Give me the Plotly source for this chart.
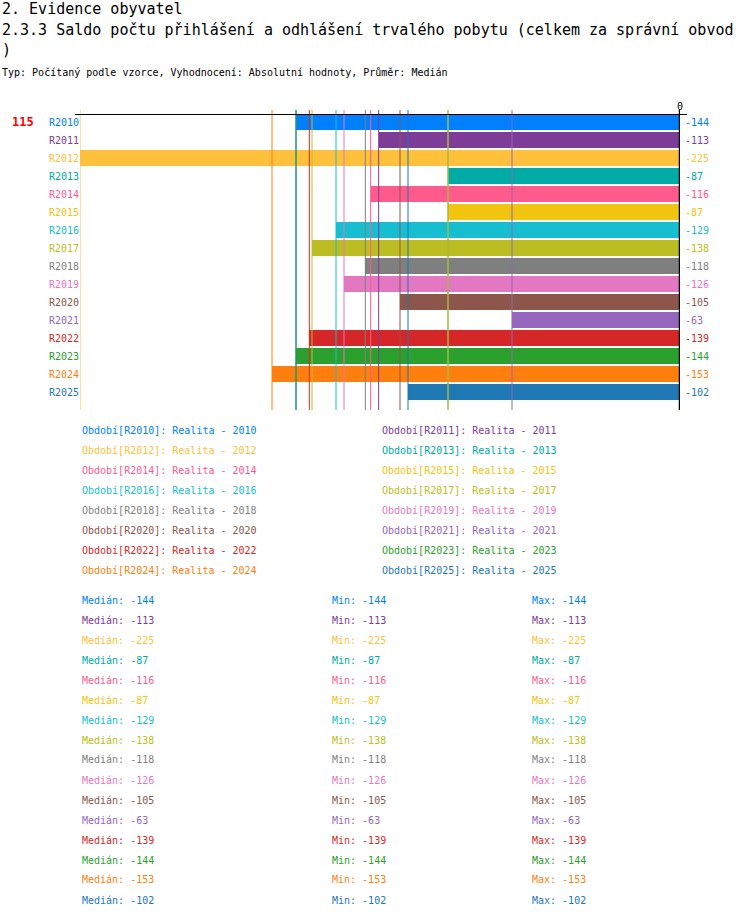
import plotly.graph_objects as go

categories = ["R2010", "R2011", "R2012", "R2013", "R2014", "R2015", "R2016", "R2017",
              "R2018", "R2019", "R2020", "R2021", "R2022", "R2023", "R2024", "R2025"]
values = [-144, -113, -225, -87, -116, -87, -129, -138, -118, -126, -105, -63, -139, -144, -153, -102]
medians = [-144, -113, -225, -87, -116, -87, -129, -138, -118, -126, -105, -63, -139, -144, -153, -102]
mins = [-144, -113, -225, -87, -116, -87, -129, -138, -118, -126, -105, -63, -139, -144, -153, -102]
maxs = [-144, -113, -225, -87, -116, -87, -129, -138, -118, -126, -105, -63, -139, -144, -153, -102]
years = [2010, 2011, 2012, 2013, 2014, 2015, 2016, 2017, 2018, 2019, 2020, 2021, 2022, 2023, 2024, 2025]
colors = ["#0080ff", "#7d3c98", "#ffc13b", "#00aaa5", "#ff5a8c", "#f1c40f", "#17becf", "#bcbd22",
          "#7f7f7f", "#e377c2", "#8c564b", "#9467bd", "#d62728", "#2ca02c", "#ff7f0e", "#1f77b4"]
count_label = "115"

title1 = "2. Evidence obyvatel"
title2 = "2.3.3 Saldo počtu přihlášení a odhlášení trvalého pobytu (celkem za správní obvod"
title3 = ")"
subtitle = "Typ: Počítaný podle vzorce, Vyhodnocení: Absolutní hodnoty, Průměr: Medián"

W, H = 750, 918
L, T, PW, PH = 80, 113, 600, 297
MONO = "DejaVu Sans Mono"


def px(x):
    return (x - L) / PW


def py(y):
    return (T + PH - y) / PH


fig = go.Figure()
fig.add_trace(go.Bar(
    x=values, y=categories, orientation="h",
    marker=dict(color=colors, line=dict(width=0)),
    width=0.88, hoverinfo="skip",
))

shapes = []
# median lines
for m, c in zip(medians, colors):
    shapes.append(dict(type="line", xref="x", yref="paper", x0=m, x1=m, y0=0, y1=py(110),
                       line=dict(color=c, width=1), layer="above"))
# top axis line
shapes.append(dict(type="line", xref="paper", yref="paper", x0=px(75), x1=px(687),
                   y0=py(114.5), y1=py(114.5), line=dict(color="black", width=1), layer="above"))
# zero line
shapes.append(dict(type="line", xref="x", yref="paper", x0=0, x1=0, y0=0, y1=py(110),
                   line=dict(color="black", width=2.5), layer="above"))

ann = []
ann.append(dict(text=title1, xref="paper", yref="paper", x=px(0), y=py(9), xanchor="left", yanchor="middle",
                showarrow=False, font=dict(family=MONO, size=15, color="black")))
ann.append(dict(text=title2, xref="paper", yref="paper", x=px(0), y=py(30), xanchor="left", yanchor="middle",
                showarrow=False, font=dict(family=MONO, size=15, color="black")))
ann.append(dict(text=title3, xref="paper", yref="paper", x=px(0), y=py(50), xanchor="left", yanchor="middle",
                showarrow=False, font=dict(family=MONO, size=15, color="black")))
ann.append(dict(text=subtitle, xref="paper", yref="paper", x=px(0), y=py(73), xanchor="left", yanchor="middle",
                showarrow=False, font=dict(family=MONO, size=10, color="black")))
ann.append(dict(text="<b>" + count_label + "</b>", xref="paper", yref="y", x=px(10), y=categories[0],
                xanchor="left", yanchor="middle", showarrow=False,
                font=dict(family=MONO, size=12, color="#ff0000")))

for cat, v, c in zip(categories, values, colors):
    ann.append(dict(text=cat, xref="paper", yref="y", x=px(47), y=cat, xanchor="left", yanchor="middle",
                    showarrow=False, font=dict(family=MONO, size=10, color=c)))
    ann.append(dict(text=str(v), xref="paper", yref="y", x=px(683), y=cat, xanchor="left", yanchor="middle",
                    showarrow=False, font=dict(family=MONO, size=10, color=c)))

# legend block 1
for i, (cat, yr, c) in enumerate(zip(categories, years, colors)):
    col = i % 2
    row = i // 2
    xx = 80 if col == 0 else 380
    yy = 430 + row * 20
    ann.append(dict(text=f"Období[{cat}]: Realita - {yr}", xref="paper", yref="paper", x=px(xx), y=py(yy),
                    xanchor="left", yanchor="middle", showarrow=False,
                    font=dict(family=MONO, size=10, color=c)))

# legend block 2
for i, (md, mn, mx, c) in enumerate(zip(medians, mins, maxs, colors)):
    yy = 600 + i * 20
    for xx, t in ((80, f"Medián: {md}"), (330, f"Min: {mn}"), (530, f"Max: {mx}")):
        ann.append(dict(text=t, xref="paper", yref="paper", x=px(xx), y=py(yy),
                        xanchor="left", yanchor="middle", showarrow=False,
                        font=dict(family=MONO, size=10, color=c)))

fig.update_layout(
    width=W, height=H,
    margin=dict(l=L, r=W - L - PW, t=T, b=H - T - PH, pad=0),
    paper_bgcolor="white", plot_bgcolor="white",
    showlegend=False,
    shapes=shapes, annotations=ann,
    xaxis=dict(range=[-225, 0], side="top", tickvals=[0], ticktext=["0"], ticks="",
               showgrid=False, zeroline=False, showline=False,
               tickfont=dict(family=MONO, size=10, color="black"), fixedrange=True),
    yaxis=dict(categoryorder="array", categoryarray=categories, range=[16, -0.5],
               showticklabels=False, showgrid=False, zeroline=False, showline=False, ticks="",
               fixedrange=True),
    bargap=0,
)

fig.write_html("out.html", config={"displayModeBar": False},
               post_script="document.body.style.margin='0';document.body.style.padding='0';")
